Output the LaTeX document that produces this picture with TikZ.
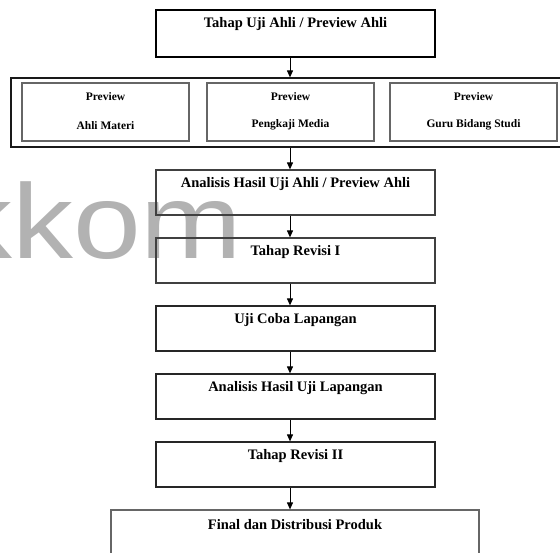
\documentclass[tikz,border=0pt]{standalone}
\usepackage{fontspec}
\setmainfont{Liberation Serif}
\newfontfamily\wmfont{Liberation Sans}
\usetikzlibrary{arrows.meta,calc}
\begin{document}
\begin{tikzpicture}[x=1pt,y=-1pt,
  stagebox/.style={draw=black!85, line width=1.2pt, rectangle, inner sep=0pt,
    minimum width=279pt, minimum height=45pt},
  groupbox/.style={draw=black!90, line width=1.2pt, rectangle, inner sep=0pt},
  reviewbox/.style={draw=black!60, line width=1.6pt, rectangle, inner sep=0pt,
    minimum width=167pt, minimum height=58pt},
  stagetxt/.style={font=\fontsize{14.5}{17}\selectfont\bfseries, inner sep=0pt},
  reviewtxt/.style={font=\fontsize{11.5}{14}\selectfont\bfseries, inner sep=0pt},
  flow/.style={draw=black, line width=1pt, -{Triangle[length=7pt,width=6pt]}},
  watermark/.style={font=\wmfont\fontsize{106}{106}\selectfont, text=black!30,
    anchor=base west, inner sep=0pt}]
\useasboundingbox (0,0) rectangle (560,552);
\clip (0,0) rectangle (560,552);

% faint background lettering
\node[watermark] (wm) at (-49,258) {\scalebox{1.15}[1]{kkom}};

\coordinate (ax) at (290,0);

% stage 1
\node[stagebox, draw=black, minimum height=47pt] (s1) at (295.5,33.5) {};
\node[stagetxt] (s1t) at ($(s1.north)+(0,15)$) {Tahap Uji Ahli / Preview Ahli};

% group of the three reviews
\node[groupbox, minimum width=554pt, minimum height=69pt] (grp) at (288,112.5) {};
\node[reviewbox] (r1) at (105.5,112) {};
\node[reviewbox] (r2) at (290.5,112) {};
\node[reviewbox] (r3) at (473.5,112) {};
\foreach \r/\w in {r1/Ahli Materi, r2/Pengkaji Media, r3/Guru Bidang Studi}{
  \node[reviewtxt] (\r a) at ($(\r.north)+(0,14)$) {Preview};
  \node[reviewtxt] (\r b) at ($(\r.north)+(0,43)$) {\w};
}

% remaining stages
\node[stagebox, draw=black!75] (s2) at (295.5,192.5) {};
\node[stagetxt] (s2t) at ($(s2.north)+(0,15)$) {Analisis Hasil Uji Ahli / Preview Ahli};
\node[stagebox, draw=black!75] (s3) at (295.5,260.5) {};
\node[stagetxt] (s3t) at ($(s3.north)+(0,15)$) {Tahap Revisi I};
\node[stagebox] (s4) at (295.5,328.5) {};
\node[stagetxt] (s4t) at ($(s4.north)+(0,15)$) {Uji Coba Lapangan};
\node[stagebox] (s5) at (295.5,396.5) {};
\node[stagetxt] (s5t) at ($(s5.north)+(0,15)$) {Analisis Hasil Uji Lapangan};
\node[stagebox] (s6) at (295.5,464.5) {};
\node[stagetxt] (s6t) at ($(s6.north)+(0,15)$) {Tahap Revisi II};
\node[stagebox, draw=black!60, minimum width=368pt, minimum height=60pt] (s7) at (295,540) {};
\node[stagetxt] (s7t) at ($(s7.north)+(0,15)$) {Final dan Distribusi Produk};

% connectors
\draw[flow] (s1.south -| ax) -- (grp.north -| ax);
\draw[flow] (grp.south -| ax) -- (s2.north -| ax);
\draw[flow] (s2.south -| ax) -- (s3.north -| ax);
\draw[flow] (s3.south -| ax) -- (s4.north -| ax);
\draw[flow] (s4.south -| ax) -- (s5.north -| ax);
\draw[flow] (s5.south -| ax) -- (s6.north -| ax);
\draw[flow] (s6.south -| ax) -- (s7.north -| ax);
\end{tikzpicture}
\end{document}
